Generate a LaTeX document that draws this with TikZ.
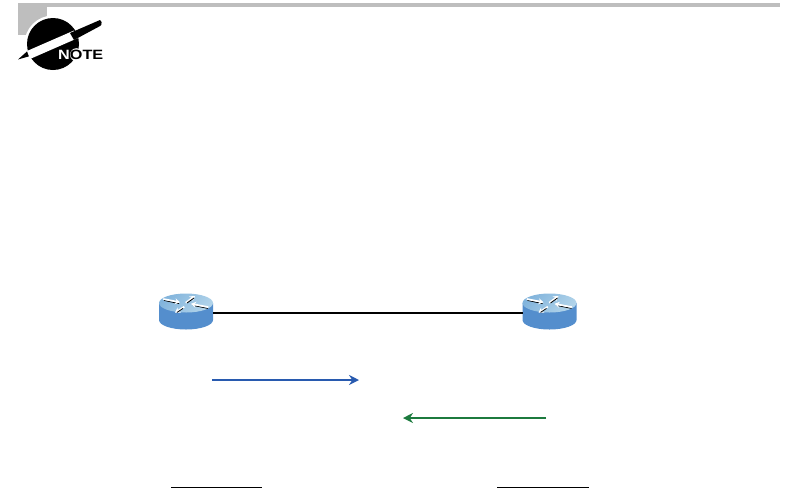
\documentclass[tikz,border=0pt]{standalone}
\usepackage{fontspec}
\setmainfont{Liberation Sans}
\usetikzlibrary{arrows.meta}
\definecolor{barGray}{RGB}{190,190,190}
\definecolor{rSide}{RGB}{84,142,205}
\definecolor{rTopA}{RGB}{130,180,220}
\definecolor{rTopB}{RGB}{178,212,234}
\definecolor{arrBlue}{RGB}{40,90,175}
\definecolor{arrGreen}{RGB}{28,122,62}
\tikzset{
  x=1pt,y=-1pt,
  routerbox/.style={minimum width=54pt,minimum height=20pt,inner sep=0pt,outer sep=0pt},
  flow/.style={line width=1.6pt,-{Stealth[length=10pt,width=10pt]}},
  linkline/.style={line width=1.4pt,black},
  rule/.style={line width=1pt,black},
  rarrow/.style={line width=1.7pt,white,-{Stealth[length=5pt,width=6pt]}},
  rshadow/.style={line width=.8pt,black}
}
\newcommand{\routerIcon}[2]{%
  \begin{scope}[shift={(#1,#2)}]
    \fill[rSide] (-27,-10) -- (-27,7) arc[start angle=180,end angle=0,x radius=27,y radius=9.5] -- (27,-10) -- cycle;
    \shade[left color=rTopA,right color=rTopB,shading angle=45] (0,-10) ellipse[x radius=27,y radius=9.5];
    \draw[rshadow] (-22,-12.6) -- (-7,-9.4);
    \draw[rarrow] (-22.7,-14) -- (-6,-10.7);
    \draw[rshadow] (22,-4.6) -- (7,-7.6);
    \draw[rarrow] (22.3,-5.9) -- (5,-9.2);
    \draw[rarrow] (-0.3,-10.3) -- (9,-17);
    \draw[rshadow] (1,-10) -- (8,-15);
    \draw[rarrow] (-1.7,-6.3) -- (-11,-0.3);
    \draw[rshadow] (-3,-4.6) -- (-9,-0.6);
  \end{scope}}
\begin{document}
\begin{tikzpicture}
\useasboundingbox (0,0) rectangle (799,488);
% header
\fill[barGray] (18,3) rectangle (780,7);
\fill[barGray] (18,7) rectangle (47,34.5);
\fill[white] (53,44) circle[radius=28.5];
\fill[black] (53,44) circle[radius=26];
\fill[white] (76.5,54.7) circle[radius=6.5];
\fill[black] (18,59.5) -- (32,47) -- (37,54) -- cycle;
\fill[white] (27,51) -- (74,30.5) -- (78,38) -- (30,59) -- cycle;
\fill[black] (70,33) -- (100,20) arc[start angle=-60,end angle=60,radius=3.5] -- (74,40) -- cycle;
\node[inner sep=0pt,anchor=center,xscale=1.2] (notelabel) at (80.7,54.7) {\fontsize{13.5}{13.5}\selectfont\bfseries \textcolor{white}{N}OTE};
% routers
\routerIcon{186}{313}
\routerIcon{549.5}{313}
\node[routerbox] (r1) at (186,313) {};
\node[routerbox] (r2) at (549.5,313) {};
\draw[linkline] (r1.east) -- (r2.west);
% flow arrows
\coordinate (bs) at (212,380);
\coordinate (be) at (359,380);
\coordinate (gs) at (546,418);
\coordinate (ge) at (403,418);
\draw[flow,arrBlue] (bs) -- (be);
\draw[flow,arrGreen] (gs) -- (ge);
% rules
\coordinate (u1a) at (171,487);
\coordinate (u1b) at (262,487);
\coordinate (u2a) at (497,487);
\coordinate (u2b) at (589,487);
\draw[rule] (u1a) -- (u1b);
\draw[rule] (u2a) -- (u2b);
\end{tikzpicture}
\end{document}
